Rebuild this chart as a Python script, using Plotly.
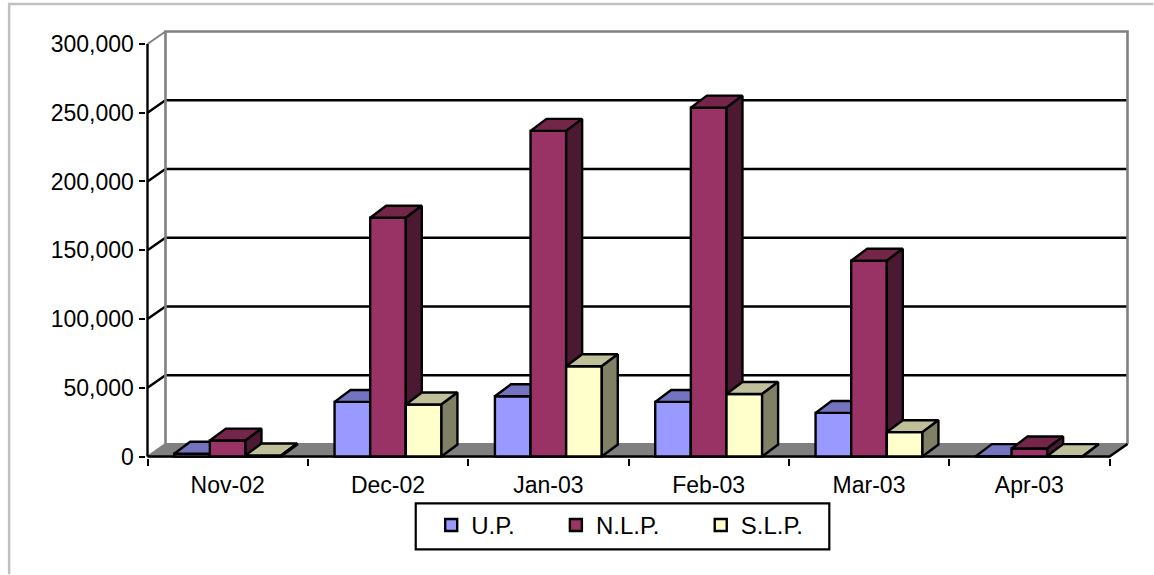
import plotly.graph_objects as go

categories = ["Nov-02", "Dec-02", "Jan-03", "Feb-03", "Mar-03", "Apr-03"]
up_values = [2000, 39700, 43800, 39700, 31700, 300]
nlp_values = [11600, 173600, 236800, 253700, 142400, 5800]
slp_values = [800, 37800, 65600, 45500, 17700, 300]
y_ticks = [0, 50000, 100000, 150000, 200000, 250000, 300000]

series = [
    ("U.P.", up_values, "#9999FF", "#7373BF", "#4D4D80", 431),
    ("N.L.P.", nlp_values, "#993366", "#732649", "#4C1933", 555.8),
    ("S.L.P.", slp_values, "#FFFFCC", "#BFBF99", "#808066", 700.8),
]

W, H = 1154, 575
L, R, T, B = 147, 1110, 43.5, 457
PAD = 1.5
WALL_DX_PX, WALL_DY_PX = 18, 12.5
n = len(categories)
ymax = y_ticks[-1]
px_x = n / (R - L)
px_y = ymax / (B - T)
wall_dx, wall_dy = WALL_DX_PX * px_x, WALL_DY_PX * px_y
bar_dx, bar_dy = 16 * px_x, 12 * px_y
bar_w = 1 / 4.5
LW = 2.4

ml, mr = L - PAD, W - (R + WALL_DX_PX + PAD)
mt, mb = T - WALL_DY_PX - PAD, H - (B + PAD)
x_range = [-PAD * px_x, n + wall_dx + PAD * px_x]
y_range = [-PAD * px_y, ymax + wall_dy + PAD * px_y]


def paper_x(p):
    return (p - ml) / (W - ml - mr)


def paper_y(p):
    return (H - mb - p) / (H - mt - mb)


fig = go.Figure()


def add_line(xs, ys, color, width=LW, fill=None, axes=("x", "y")):
    fig.add_trace(go.Scatter(
        x=xs, y=ys, mode="lines", xaxis=axes[0], yaxis=axes[1],
        line=dict(color=color, width=width), fill="toself" if fill else None,
        fillcolor=fill, showlegend=False, hoverinfo="skip",
    ))


# floor and back walls
add_line([0, n, n + wall_dx, wall_dx, 0], [0, 0, wall_dy, wall_dy, 0], "#808080", 2, "#808080")
add_line([0, wall_dx], [ymax, ymax + wall_dy], "#808080", 2)
# grid
gx, gy = [], []
for v in y_ticks[1:-1]:
    gx += [0, wall_dx, n + wall_dx, None]
    gy += [v, v + wall_dy, v + wall_dy, None]
add_line(gx, gy, "#000000")
add_line([wall_dx, wall_dx, n + wall_dx, n + wall_dx],
         [wall_dy, ymax + wall_dy, ymax + wall_dy, wall_dy], "#808080", 2.6)
# axis lines and the floor's right edge
add_line([0, 0], [0, ymax], "#000000")
add_line([0, n, n + wall_dx], [0, 0, wall_dy], "#000000")

# bars, one overlaid subplot per series so they paint back to front
for k, (name, values, front, top, side, legend_px) in enumerate(series):
    ax = (f"x{k + 2}", f"y{k + 2}")
    centers = [i + 0.5 + (k - 1) * bar_w for i in range(n)]
    fig.add_trace(go.Bar(
        x=centers, y=values, width=bar_w, name=name, xaxis=ax[0], yaxis=ax[1],
        legend="legend" if k == 0 else f"legend{k + 1}", showlegend=True,
        marker=dict(color=front, line=dict(color="#000000", width=LW)),
    ))
    for c, v in zip(centers, values):
        x0, x1 = c - bar_w / 2, c + bar_w / 2
        add_line([x0, x0 + bar_dx, x1 + bar_dx, x1, x0],
                 [v, v + bar_dy, v + bar_dy, v, v], "#000000", LW, top, ax)
        add_line([x1, x1 + bar_dx, x1 + bar_dx, x1, x1],
                 [v, v + bar_dy, bar_dy, 0, v], "#000000", LW, side, ax)

family = "Liberation Sans, Arial, sans-serif"
font = dict(family=family, size=23, color="#000000")
legend_font = dict(family=family, size=24, color="#000000")
layout = dict(
    width=W, height=H, autosize=False,
    margin=dict(l=ml, r=mr, t=mt, b=mb, pad=0),
    paper_bgcolor="#FFFFFF", plot_bgcolor="rgba(0,0,0,0)",
    font=font, barmode="overlay", hovermode=False,
    xaxis=dict(
        range=x_range, tickmode="array", tickvals=[i + 0.5 for i in range(n)], ticktext=categories,
        ticks="", showgrid=False, zeroline=False, showline=False,
        ticklabelstandoff=11,
        minor=dict(tickmode="array", tickvals=list(range(n + 1)), ticks="outside", ticklen=6.5,
                   tickwidth=2.2, tickcolor="#000000", showgrid=False),
    ),
    yaxis=dict(
        range=y_range, tickmode="array", tickvals=y_ticks, tickformat=",.0f", ticks="outside",
        ticklen=6.5, tickwidth=2.2, tickcolor="#000000", showgrid=False, zeroline=False,
        showline=False,
    ),
    shapes=[
        dict(type="rect", xref="paper", yref="paper", x0=paper_x(415.5), x1=paper_x(829.5),
             y0=paper_y(550), y1=paper_y(504), line=dict(color="#000000", width=2.2),
             fillcolor="#FFFFFF", layer="below"),
        dict(type="path", xref="paper", yref="paper", layer="below",
             path=f"M {paper_x(8.5)} {paper_y(H)} L {paper_x(8.5)} {paper_y(3.5)} L {paper_x(W)} {paper_y(3.5)}",
             line=dict(color="#C0C0C0", width=2.5)),
    ],
)
for k, s in enumerate(series):
    key = "legend" if k == 0 else f"legend{k + 1}"
    layout[key] = dict(
        orientation="h", xanchor="left", yanchor="middle", x=paper_x(s[5]), y=paper_y(526),
        bgcolor="rgba(0,0,0,0)", borderwidth=0, itemwidth=30, font=legend_font,
    )
    layout[f"xaxis{k + 2}"] = dict(range=x_range, overlaying="x", visible=False)
    layout[f"yaxis{k + 2}"] = dict(range=y_range, overlaying="y", visible=False)
fig.update_layout(**layout)
fig.write_html("out.html", config={"displayModeBar": False},
               post_script="document.body.style.margin='0';document.documentElement.style.overflow='hidden';")
